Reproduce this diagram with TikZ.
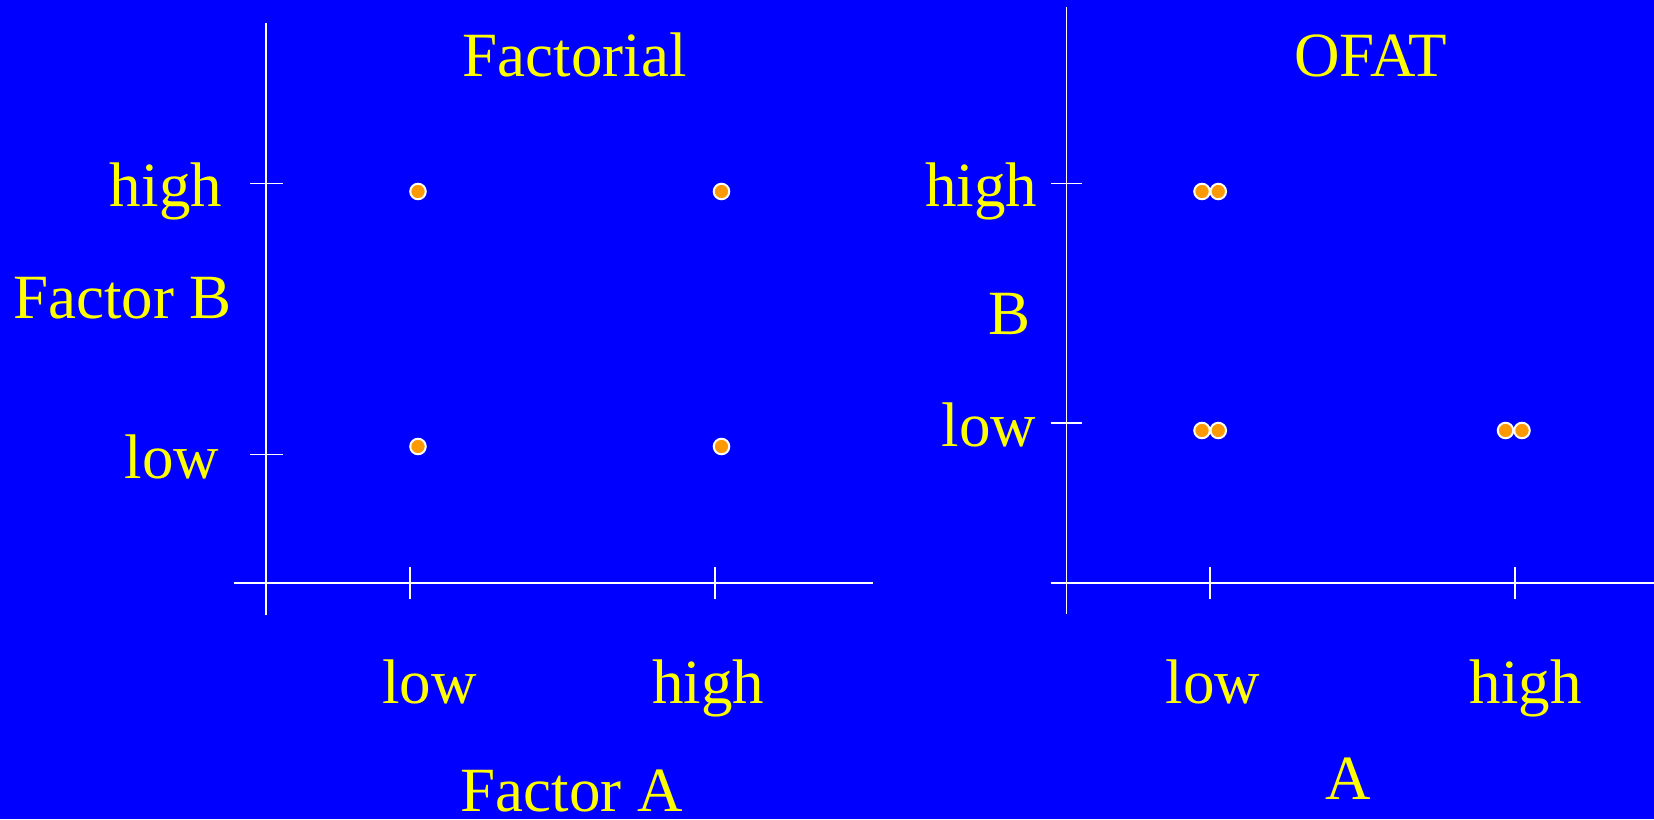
\documentclass[tikz,border=0pt]{standalone}
\usepackage{fontspec}
\setmainfont{Liberation Serif}
\definecolor{bgblue}{RGB}{0,0,255}
\definecolor{txtyellow}{RGB}{255,255,0}
\definecolor{dotorange}{RGB}{255,153,0}
\begin{document}
\begin{tikzpicture}[x=1pt,y=-1pt,
  lbl/.style={inner sep=0pt,outer sep=0pt,text=txtyellow,font=\fontsize{63}{72}\selectfont},
  axis/.style={draw=white,line width=1.7pt},
  dot/.style={circle,fill=dotorange,draw=white,line width=2pt,minimum size=15.5pt,inner sep=0pt}]
\fill[bgblue] (0,0) rectangle (1654,819);
\useasboundingbox (0,0) rectangle (1654,819);
% ---------- left panel (Factorial) ----------
\coordinate (LvT) at (266,23);
\coordinate (LvB) at (266,615);
\coordinate (LhL) at (234,583);
\coordinate (LhR) at (873,583);
\draw[axis] (LvT) -- (LvB);
\draw[axis] (LhL) -- (LhR);
\coordinate (Ltx1a) at (410,567); \coordinate (Ltx1b) at (410,599);
\coordinate (Ltx2a) at (715,567); \coordinate (Ltx2b) at (715,599);
\coordinate (Lty1a) at (250,183.5); \coordinate (Lty1b) at (283,183.5);
\coordinate (Lty2a) at (250,454.5); \coordinate (Lty2b) at (283,454.5);
\draw[axis] (Ltx1a) -- (Ltx1b);
\draw[axis] (Ltx2a) -- (Ltx2b);
\draw[axis] (Lty1a) -- (Lty1b);
\draw[axis] (Lty2a) -- (Lty2b);
\node[dot] (d1) at (418,191.5) {};
\node[dot] (d2) at (721.5,191.5) {};
\node[dot] (d3) at (418,446.5) {};
\node[dot] (d4) at (721.5,446.5) {};
\node[lbl,anchor=base] (tF) at (574.5,76.7) {Factorial};
\node[lbl,anchor=base east] (lh) at (222,206.7) {high};
\node[lbl,anchor=base] (fB) at (122.5,318.3) {Factor B};
\node[lbl,anchor=base east] (ll) at (219,478.3) {low};
\node[lbl,anchor=base] (xl) at (429.3,703.3) {low};
\node[lbl,anchor=base] (xh) at (708.3,703.3) {high};
\node[lbl,anchor=base,text depth=0pt] (fA) at (571.7,811) {Factor A};
% ---------- right panel (OFAT) ----------
\coordinate (RvT) at (1066.5,7);
\coordinate (RvB) at (1066.5,614);
\coordinate (RhL) at (1050.5,583);
\coordinate (RhR) at (1654,583);
\draw[axis] (RvT) -- (RvB);
\draw[axis] (RhL) -- (RhR);
\coordinate (Rtx1a) at (1210,567); \coordinate (Rtx1b) at (1210,599);
\coordinate (Rtx2a) at (1515,567); \coordinate (Rtx2b) at (1515,599);
\coordinate (Rty1a) at (1050.5,183.5); \coordinate (Rty1b) at (1082,183.5);
\coordinate (Rty2a) at (1050.5,423.3); \coordinate (Rty2b) at (1082,423.3);
\draw[axis] (Rtx1a) -- (Rtx1b);
\draw[axis] (Rtx2a) -- (Rtx2b);
\draw[axis] (Rty1a) -- (Rty1b);
\draw[axis] (Rty2a) -- (Rty2b);
\node[dot] (r1) at (1202,191.5) {};
\node[dot] (r2) at (1218.3,191.5) {};
\node[dot] (r3) at (1202,430.5) {};
\node[dot] (r4) at (1218.3,430.5) {};
\node[dot] (r5) at (1505.5,430.5) {};
\node[dot] (r6) at (1522,430.5) {};
\node[lbl,anchor=base] (tO) at (1370.7,76.7) {OFAT};
\node[lbl,anchor=base east] (rh) at (1037.3,206.7) {high};
\node[lbl,anchor=base] (rB) at (1009.2,334.3) {B};
\node[lbl,anchor=base east] (rl) at (1036,446) {low};
\node[lbl,anchor=base] (rxl) at (1213,703.3) {low};
\node[lbl,anchor=base] (rxh) at (1525.8,703.3) {high};
\node[lbl,anchor=base,text depth=0pt] (rA) at (1348.3,799) {A};
\end{tikzpicture}
\end{document}
